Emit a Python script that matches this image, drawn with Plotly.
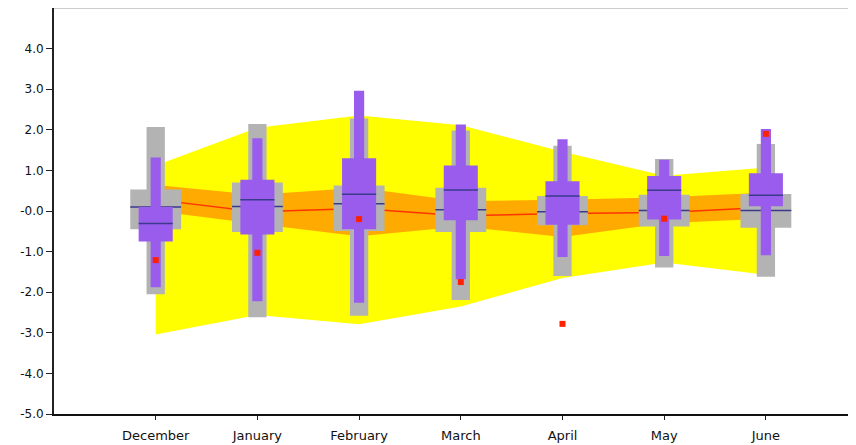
import plotly.graph_objects as go

months = ["December", "January", "February", "March", "April", "May", "June"]

# outer (gray) distribution
gray_q3 = [0.53, 0.70, 0.63, 0.57, 0.37, 0.40, 0.42]
gray_q1 = [-0.45, -0.52, -0.49, -0.52, -0.35, -0.38, -0.41]
gray_hi = [2.07, 2.14, 2.28, 1.98, 1.61, 1.28, 1.65]
gray_lo = [-2.05, -2.62, -2.58, -2.19, -1.60, -1.39, -1.62]
gray_med = [0.10, 0.11, 0.18, 0.03, -0.02, 0.01, 0.01]

# inner (purple) distribution
purple_q3 = [0.10, 0.77, 1.30, 1.12, 0.73, 0.86, 0.93]
purple_q1 = [-0.75, -0.58, -0.45, -0.23, -0.34, -0.21, 0.12]
purple_hi = [1.32, 1.79, 2.96, 2.13, 1.77, 1.26, 2.02]
purple_lo = [-1.88, -2.22, -2.26, -1.68, -1.13, -1.11, -1.09]
purple_med = [-0.31, 0.28, 0.41, 0.52, 0.37, 0.51, 0.39]

# observed values (red squares)
observed = [-1.21, -1.03, -0.20, -1.75, -2.78, -0.19, 1.90]

# envelope bands
yellow_hi = [1.12, 2.05, 2.35, 2.11, 1.46, 0.87, 1.07]
yellow_lo = [-3.04, -2.56, -2.79, -2.35, -1.65, -1.27, -1.57]
orange_hi = [0.64, 0.40, 0.57, 0.24, 0.28, 0.34, 0.45]
orange_lo = [0.00, -0.32, -0.62, -0.38, -0.64, -0.30, -0.19]
mean_line = [0.28, -0.02, 0.06, -0.12, -0.06, -0.04, 0.09]

y_ticks = [4, 3, 2, 1, 0, -1, -2, -3, -4, -5]
y_tick_text = ["4.0", "3.0", "2.0", "1.0", "-0.0", "-1.0", "-2.0", "-3.0", "-4.0", "-5.0"]

xs = list(range(len(months)))

GRAY = "#b3b3b3"
PURPLE = "#995ced"
MED = "#3a3a8c"
X_RANGE = [-1, 6.886]
Y_RANGE = [-5, 5]

fig = go.Figure()

# layer 1: bands and mean line
fig.add_trace(go.Scatter(
    x=xs + xs[::-1], y=yellow_hi + yellow_lo[::-1],
    fill="toself", fillcolor="#ffff00", mode="lines", line=dict(width=0),
    hoverinfo="skip"))
fig.add_trace(go.Scatter(
    x=xs + xs[::-1], y=orange_hi + orange_lo[::-1],
    fill="toself", fillcolor="#ffaa00", mode="lines", line=dict(width=0),
    hoverinfo="skip"))
fig.add_trace(go.Scatter(x=xs, y=mean_line, mode="lines",
                         line=dict(color="#ff3300", width=1.5)))


def bars(lo, hi, width, color, layer):
    return go.Bar(x=xs, base=lo, y=[h - l for h, l in zip(hi, lo)],
                  width=width, marker=dict(color=color, line=dict(width=0)),
                  hoverinfo="skip", xaxis="x" + layer, yaxis="y" + layer)


def med_segments(vals, width, layer):
    mx, my = [], []
    for i, v in zip(xs, vals):
        mx += [i - width / 2, i + width / 2, None]
        my += [v, v, None]
    return go.Scatter(x=mx, y=my, mode="lines",
                      line=dict(color=MED, width=1.5), hoverinfo="skip",
                      xaxis="x" + layer, yaxis="y" + layer)


# layer 2: gray distribution
fig.add_trace(bars(gray_lo, gray_hi, 0.18, GRAY, "2"))
fig.add_trace(bars(gray_q1, gray_q3, 0.50, GRAY, "2"))
fig.add_trace(med_segments(gray_med, 0.50, "2"))

# layer 3: purple distribution and observations
fig.add_trace(bars(purple_lo, purple_hi, 0.10, PURPLE, "3"))
fig.add_trace(bars(purple_q1, purple_q3, 0.335, PURPLE, "3"))
fig.add_trace(med_segments(purple_med, 0.335, "3"))
fig.add_trace(go.Scatter(x=xs, y=observed, mode="markers",
                         marker=dict(symbol="square", size=6, color="#ff2200",
                                     line=dict(width=0)),
                         xaxis="x3", yaxis="y3"))

fig.update_layout(
    width=848, height=437,
    margin=dict(l=46, r=0, t=0, b=31, autoexpand=False),
    barmode="overlay",
    showlegend=False,
    plot_bgcolor="white", paper_bgcolor="white",
    font=dict(family="DejaVu Sans", color="#111111"),
    shapes=[dict(type="line", xref="paper", yref="paper", x0=0, x1=1, y0=1, y1=1,
                 line=dict(color="#999999", width=1))],
    xaxis=dict(
        range=X_RANGE, tickmode="array", tickvals=xs, ticktext=months,
        ticks="outside", ticklen=4, tickcolor="#222222", tickwidth=1,
        showline=True, linewidth=2, linecolor="#111111",
        showgrid=False, zeroline=False, tickfont=dict(size=13),
        ticklabelstandoff=4, automargin=False,
    ),
    yaxis=dict(
        range=Y_RANGE, tickmode="array", tickvals=y_ticks, ticktext=y_tick_text,
        ticks="outside", ticklen=6, tickcolor="#222222", tickwidth=1,
        showline=True, linewidth=2, linecolor="#222222",
        showgrid=False, zeroline=False, tickfont=dict(size=12),
        automargin=False,
    ),
    xaxis2=dict(range=X_RANGE, overlaying="x", visible=False),
    yaxis2=dict(range=Y_RANGE, overlaying="y", visible=False),
    xaxis3=dict(range=X_RANGE, overlaying="x", visible=False),
    yaxis3=dict(range=Y_RANGE, overlaying="y", visible=False),
)

fig.write_html("out.html")
